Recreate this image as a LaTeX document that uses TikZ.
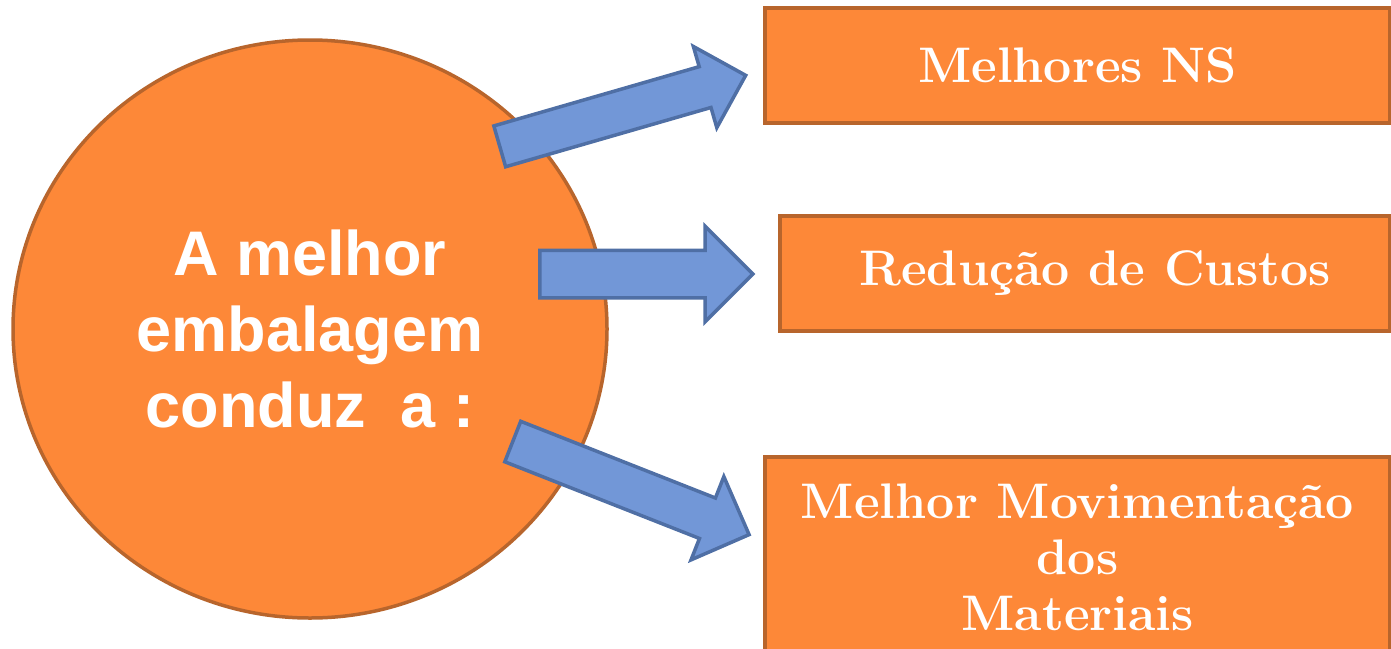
\documentclass[tikz,border=0pt]{standalone}
\usepackage{fontspec}
\newfontfamily\circfont{Liberation Sans}
\usetikzlibrary{shapes.geometric,shapes.arrows}
\definecolor{boxorange}{HTML}{FD8838}
\definecolor{boxedge}{HTML}{B8652C}
\definecolor{arrowblue}{HTML}{7297D7}
\definecolor{arrowedge}{HTML}{4F6FA5}
\begin{document}
\begin{tikzpicture}[x=0.5pt,y=-0.5pt,
orangebox/.style={draw=boxedge,fill=boxorange,line width=1.75pt,rectangle,inner sep=0pt,text=white,align=center,font=\fontsize{25}{28}\selectfont\bfseries},
bigcircle/.style={draw=boxedge,fill=boxorange,line width=1.75pt,ellipse,inner sep=0pt,text=white,align=center,font=\circfont\fontsize{31.5}{38}\selectfont\bfseries},
blockarrow/.style={draw=arrowedge,fill=arrowblue,line width=1.75pt,single arrow,single arrow head indent=0pt,inner xsep=0pt}]
\useasboundingbox (0,0) rectangle (1391,648);

\node[bigcircle,minimum width=297pt,minimum height=289pt] (circ) at (310,329) {A melhor\\embalagem\\conduz\ \ a :};

\node[orangebox,minimum width=312.5pt,minimum height=57.5pt] (ns) at (1077.5,65.5) {Melhores NS};
\node[orangebox,minimum width=305pt,minimum height=57.5pt] (custos) at (1085,273.5) {\hspace*{10pt}Redução de Custos};
\node[orangebox,minimum width=312.5pt,minimum height=100pt] (mov) at (1077.5,557) {Melhor Movimentação\\dos\\Materiais};

% setas
\node[blockarrow,rotate=16.1,minimum height=128pt,inner ysep=9.75pt,single arrow head extend=10.5pt] (arr1) at (612.5,113.8) {};
\node[blockarrow,minimum height=106.5pt,inner ysep=11pt,single arrow head extend=12pt] (arr2) at (634.5,274) {};
\node[blockarrow,rotate=-21.5,minimum height=127pt,inner ysep=10pt,single arrow head extend=11.5pt] (arr3) at (620.8,484.1) {};
\end{tikzpicture}
\end{document}
